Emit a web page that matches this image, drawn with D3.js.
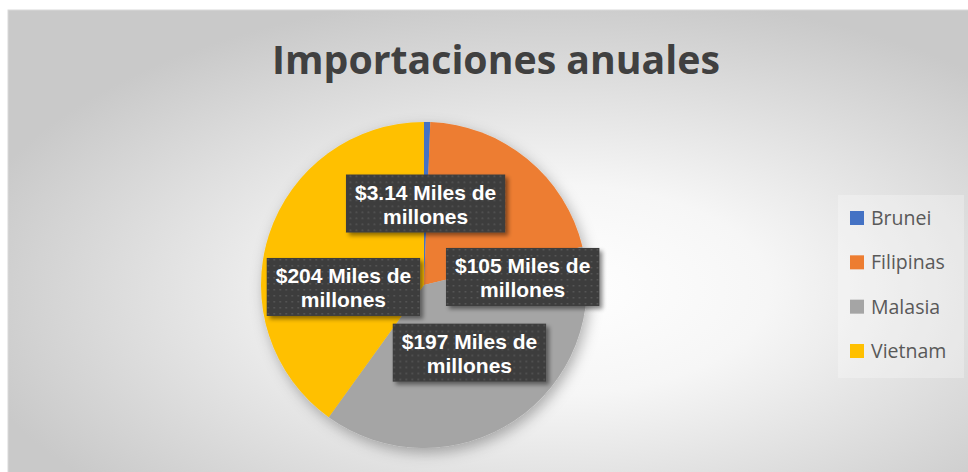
<!DOCTYPE html>
<html>
<head>
<meta charset="utf-8">
<script src="https://cdn.jsdelivr.net/npm/d3@7"></script>
<style>
  body { margin: 0; background: #fff; }
  svg { display: block; }
</style>
</head>
<body>
<svg width="968" height="472"></svg>
<script>
// data
const categories = ["Brunei", "Filipinas", "Malasia", "Vietnam"];
const values = [3.14, 105, 197, 204];
const colors = ["#4472C4", "#ED7D31", "#A5A5A5", "#FFC000"];
const unitLines = ["Miles de", "millones"];
const title = "Importaciones anuales";

var svg = d3.select("svg"),
  width = +svg.attr("width"),
  height = +svg.attr("height");

const defs = svg.append("defs");

// chart background: radial gradient white -> gray
const grad = defs.append("radialGradient")
  .attr("id", "bg")
  .attr("cx", "56%").attr("cy", "58%").attr("r", "62%");
grad.append("stop").attr("offset", "0%").attr("stop-color", "#ffffff");
grad.append("stop").attr("offset", "35%").attr("stop-color", "#f6f6f6");
grad.append("stop").attr("offset", "100%").attr("stop-color", "#c9c9c9");

const pieShadow = defs.append("filter").attr("id", "pieShadow")
  .attr("x", "-20%").attr("y", "-20%").attr("width", "140%").attr("height", "140%");
pieShadow.append("feDropShadow")
  .attr("dx", 3).attr("dy", 5).attr("stdDeviation", 7)
  .attr("flood-color", "#000").attr("flood-opacity", 0.3);

const boxShadow = defs.append("filter").attr("id", "boxShadow")
  .attr("x", "-20%").attr("y", "-20%").attr("width", "140%").attr("height", "150%");
boxShadow.append("feDropShadow")
  .attr("dx", 3).attr("dy", 3).attr("stdDeviation", 2)
  .attr("flood-color", "#000").attr("flood-opacity", 0.45);

// dotted dark fill for the data labels
const pat = defs.append("pattern")
  .attr("id", "dots")
  .attr("patternUnits", "userSpaceOnUse")
  .attr("width", 6).attr("height", 6);
pat.append("rect").attr("width", 6).attr("height", 6).attr("fill", "#3d3d3d");
pat.append("rect").attr("x", 2).attr("y", 2).attr("width", 1.5).attr("height", 1.5).attr("fill", "#5a5a5a");

svg.append("rect")
  .attr("x", 8).attr("y", 10)
  .attr("width", width - 8 + 20).attr("height", height - 10 + 20)
  .attr("fill", "url(#bg)")
  .attr("stroke", "#d9d9d9")
  .attr("stroke-width", 1);

// title, fitted to the width it has in the picture
const titleText = svg.append("text")
  .attr("x", 496)
  .attr("y", 74)
  .attr("text-anchor", "middle")
  .style("font-family", "'Open Sans', sans-serif")
  .style("font-weight", "700")
  .style("font-size", "40px")
  .attr("fill", "#404040")
  .text(title);
const tl = titleText.node().getComputedTextLength();
titleText.style("font-size", (40 * 448 / tl) + "px");

// pie
const cx = 424, cy = 285, radius = 163;
const data = categories.map((c, i) => ({ name: c, value: values[i], color: colors[i] }));

const pie = d3.pie().sort(null).value(d => d.value);
const arc = d3.arc().innerRadius(0).outerRadius(radius);
const arcs = pie(data);

const g = svg.append("g").attr("transform", `translate(${cx},${cy})`);

g.append("g")
  .attr("filter", "url(#pieShadow)")
  .selectAll("path")
  .data(arcs)
  .enter()
  .append("path")
  .attr("d", arc)
  .attr("fill", d => d.data.color);

// data labels: centroid, with the shifts Excel's best fit made to avoid overlaps
const nudge = { Filipinas: [47, 55], Vietnam: [-3, 27] };
const fmt = d3.format("$.3r");

const labels = g.selectAll(".lbl")
  .data(arcs)
  .enter()
  .append("g")
  .attr("class", "lbl")
  .attr("transform", d => {
    const c = arc.centroid(d);
    const n = nudge[d.data.name] || [0, 0];
    return `translate(${c[0] + n[0]},${c[1] + n[1]})`;
  });

labels.each(function (d) {
  const lg = d3.select(this);
  const box = lg.append("rect")
    .attr("fill", "url(#dots)")
    .attr("filter", "url(#boxShadow)");
  const t = lg.append("text")
    .attr("text-anchor", "middle")
    .style("font-family", "'Liberation Sans', Arial, sans-serif")
    .style("font-weight", "700")
    .style("font-size", "21px")
    .attr("fill", "#ffffff");
  t.append("tspan").attr("x", 0).attr("y", -4).text(fmt(d.data.value) + " " + unitLines[0]);
  t.append("tspan").attr("x", 0).attr("y", 20).text(unitLines[1]);
  const w = t.node().getBBox().width + 18;
  box.attr("x", -w / 2).attr("y", -29).attr("width", w).attr("height", 58);
});

// legend
const legendY = d3.scalePoint().domain(categories).range([225, 358]);

svg.append("rect")
  .attr("x", 838).attr("y", 195)
  .attr("width", 126).attr("height", 183)
  .attr("fill", "#ffffff").attr("fill-opacity", 0.28);

const legend = svg.append("g")
  .selectAll("g")
  .data(data)
  .enter()
  .append("g")
  .attr("transform", d => `translate(850,${legendY(d.name)})`);

legend.append("rect")
  .attr("x", 0).attr("y", -14)
  .attr("width", 14).attr("height", 14)
  .attr("fill", d => d.color);

legend.append("text")
  .attr("x", 21).attr("y", 0)
  .style("font-family", "'Open Sans', sans-serif")
  .style("font-size", "19.5px")
  .attr("fill", "#595959")
  .text(d => d.name);
</script>
</body>
</html>
